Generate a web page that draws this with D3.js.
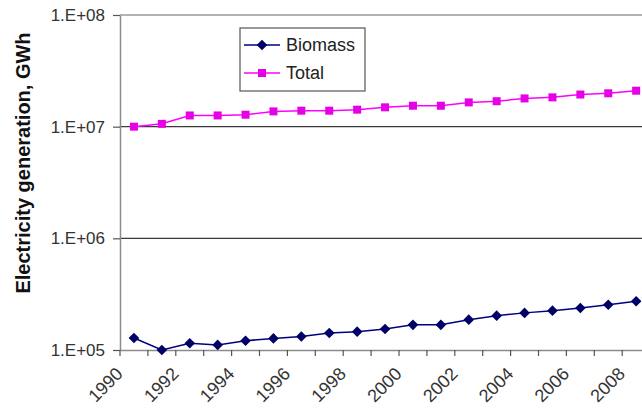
<!DOCTYPE html>
<html><head><meta charset="utf-8">
<script src="https://cdn.jsdelivr.net/npm/d3@7"></script>
<style>body{margin:0;background:#fff}svg{display:block}</style>
</head><body>
<svg id="c" width="642" height="408"></svg>
<script>
const years = ["1990","1991","1992","1993","1994","1995","1996","1997","1998","1999","2000","2001","2002","2003","2004","2005","2006","2007","2008"];
const allCats = years.concat(["2009"]);
const biomass = [1.28e5,1.0e5,1.15e5,1.11e5,1.21e5,1.27e5,1.32e5,1.42e5,1.46e5,1.54e5,1.68e5,1.68e5,1.87e5,2.03e5,2.15e5,2.25e5,2.38e5,2.54e5,2.73e5];
const total = [1.0e7,1.06e7,1.26e7,1.26e7,1.28e7,1.37e7,1.39e7,1.39e7,1.42e7,1.49e7,1.54e7,1.54e7,1.65e7,1.69e7,1.79e7,1.83e7,1.94e7,1.99e7,2.10e7];
const yTicks = [1e5,1e6,1e7,1e8];
const yTickLabels = ["1.E+05","1.E+06","1.E+07","1.E+08"];
const seriesNames = ["Biomass","Total"];

const svg = d3.select("#c");
const mLeft = 120, mTop = 15, mBottom = 350, catW = 27.9;
const x = d3.scaleBand().domain(allCats).range([mLeft, mLeft + catW*allCats.length]).paddingInner(0).paddingOuter(0);
const y = d3.scaleLog().domain([1e5,1e8]).range([mBottom, mTop]);
const mRight = 642;
const font = "Liberation Sans, Arial, sans-serif";

// gridlines
svg.append("g").selectAll("line").data(yTicks.slice(1)).join("line")
  .attr("x1", mLeft).attr("x2", mRight)
  .attr("y1", d=>y(d)).attr("y2", d=>y(d))
  .attr("stroke", d=> d===1e8 ? "#9a9a9a" : "#3a3a3a").attr("stroke-width", 1.3);

// y axis
const yAxis = d3.axisLeft(y).tickValues(yTicks).tickFormat((d,i)=>yTickLabels[i]).tickSize(7).tickSizeOuter(0);
const gy = svg.append("g").attr("transform",`translate(${mLeft},0)`).call(yAxis);
gy.select(".domain").attr("stroke","#8c8c8c").attr("stroke-width",1.5);
gy.selectAll(".tick line").attr("stroke","#555").attr("stroke-width",1.2);
gy.selectAll(".tick text").attr("font-family",font).attr("font-size","17px").attr("fill","#333").attr("x",-15);

// x axis
const xAxis = d3.axisBottom(x).tickValues([]).tickSizeOuter(0);
const gx = svg.append("g").attr("transform",`translate(0,${mBottom})`).call(xAxis);
gx.select(".domain").attr("stroke","#8c8c8c").attr("stroke-width",1.5);
gx.selectAll(".bnd").data(allCats).join("line").attr("class","bnd")
  .attr("x1", d=>x(d)).attr("x2", d=>x(d)).attr("y1",0).attr("y2",6)
  .attr("stroke","#555").attr("stroke-width",1.2);
svg.append("g").selectAll("text").data(years.filter((d,i)=>i%2===0)).join("text")
  .attr("transform", d=>`translate(${x(d)+x.bandwidth()/2-10},${mBottom+25}) rotate(-45)`)
  .attr("text-anchor","end").attr("font-family",font).attr("font-size","18px").attr("fill","#333")
  .text(d=>d);

// lines
const cx = d=>x(d)+x.bandwidth()/2;
const line = d3.line().x((d,i)=>cx(years[i])).y(d=>y(d));
svg.append("path").datum(total).attr("d",line).attr("fill","none").attr("stroke","#ff00ff").attr("stroke-width",1.5);
svg.append("path").datum(biomass).attr("d",line).attr("fill","none").attr("stroke","#000080").attr("stroke-width",1.5);

svg.append("g").selectAll("rect").data(total).join("rect")
  .attr("x",(d,i)=>cx(years[i])-4).attr("y",d=>y(d)-4).attr("width",8).attr("height",8)
  .attr("fill","#e600e6");
const diamond = d3.symbol().type(d3.symbolDiamond2).size(72);
svg.append("g").selectAll("path").data(biomass).join("path")
  .attr("d",diamond).attr("transform",(d,i)=>`translate(${cx(years[i])},${y(d)})`)
  .attr("fill","#000066");

// legend
const lg = svg.append("g");
lg.append("rect").attr("x",240).attr("y",28).attr("width",125).attr("height",63)
  .attr("fill","#fff").attr("stroke","#555").attr("stroke-width",1.2);
const lcol = ["#000080","#ff00ff"];
seriesNames.forEach((n,i)=>{
  const yy = 45 + i*28;
  lg.append("line").attr("x1",244).attr("x2",280).attr("y1",yy).attr("y2",yy).attr("stroke",lcol[i]).attr("stroke-width",1.5);
  if(i===0) lg.append("path").attr("d",diamond).attr("transform",`translate(262,${yy})`).attr("fill","#000066");
  else lg.append("rect").attr("x",258).attr("y",yy-4).attr("width",8).attr("height",8).attr("fill","#e600e6");
  lg.append("text").attr("x",286).attr("y",yy).attr("dy","0.36em").attr("font-family",font).attr("font-size","18px").attr("fill","#222").text(n);
});

// y title
svg.append("text").attr("transform","translate(30,163) rotate(-90)").attr("text-anchor","middle")
  .attr("font-family",font).attr("font-weight","bold").attr("font-size","20px").attr("fill","#111")
  .text("Electricity generation, GWh");
</script>
</body></html>
